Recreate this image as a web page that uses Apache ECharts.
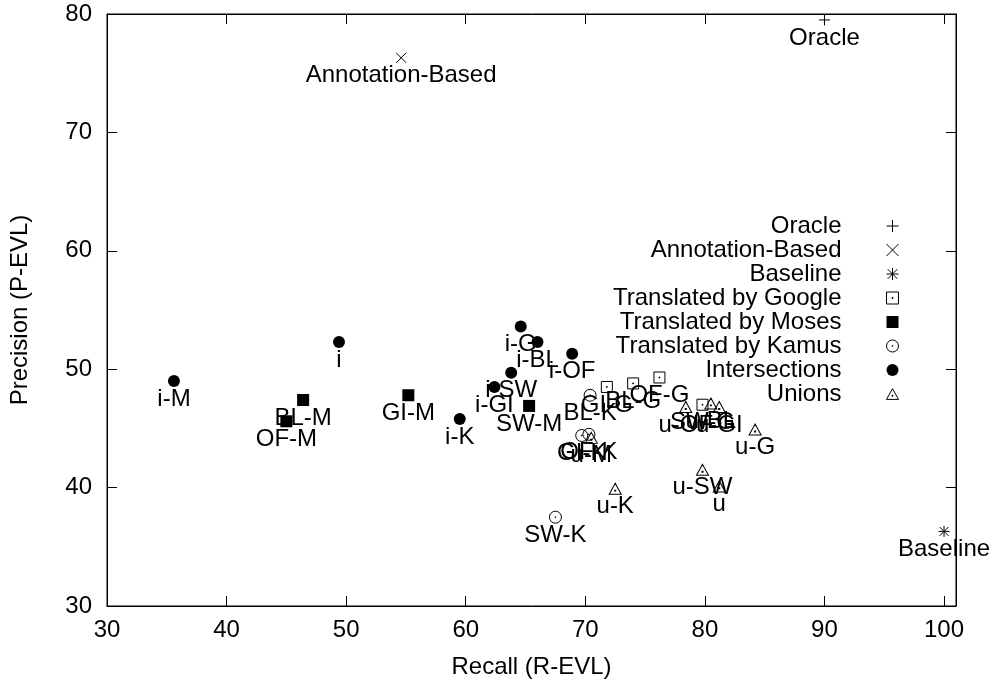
<!DOCTYPE html>
<html>
<head>
<meta charset="utf-8">
<script src="https://cdn.jsdelivr.net/npm/echarts@6/dist/echarts.min.js"></script>
<style>
  html, body { margin: 0; padding: 0; background: #fff; }
  #chart { width: 1002px; height: 685px; }
</style>
</head>
<body>
<div id="chart"></div>
<script>
  // [recall, precision, label]
  var oracle = [[90.0, 79.5, 'Oracle']];
  var annotation = [[54.6, 76.3, 'Annotation-Based']];
  var baseline = [[100.0, 36.3, 'Baseline']];
  var google = [[71.8, 48.5, 'GI-G'], [74.0, 48.8, 'BL-G'], [76.2, 49.3, 'OF-G'], [79.8, 47.0, 'SW-G']];
  var moses = [[46.4, 47.4, 'BL-M'], [45.0, 45.6, 'OF-M'], [55.2, 47.8, 'GI-M'], [65.3, 46.9, 'SW-M']];
  var kamus = [[70.4, 47.8, 'BL-K'], [69.7, 44.4, 'GI-K'], [70.3, 44.5, 'OF-K'], [67.5, 37.5, 'SW-K']];
  var intersections = [[49.4, 52.3, 'i'], [35.6, 49.0, 'i-M'], [64.6, 53.6, 'i-G'], [59.5, 45.8, 'i-K'],
    [66.0, 52.3, 'i-BL'], [68.9, 51.3, 'i-OF'], [63.8, 49.7, 'i-SW'], [62.4, 48.5, 'i-GI']];
  var unions = [[81.2, 40.1, 'u'], [70.5, 44.2, 'u-M'], [84.2, 44.9, 'u-G'], [72.5, 39.9, 'u-K'],
    [80.5, 47.1, 'u-BL'], [78.4, 46.8, 'u-OF'], [79.8, 41.5, 'u-SW'], [81.2, 46.8, 'u-GI']];

  var xTicks = { min: 30, max: 101, interval: 10 };
  var yTicks = { min: 30, max: 80, interval: 10 };

  var FONT = 'Liberation Sans, Arial, Helvetica, sans-serif';
  var FS = 24;

  var PLUS = 'path://M5 0 L5 10 M0 5 L10 5';
  var CROSS = 'path://M0 0 L10 10 M10 0 L0 10';
  var STAR = 'path://M5 0 L5 10 M0 5 L10 5 M1 1 L9 9 M9 1 L1 9';
  var BOXDOT = 'path://M0 0 L10 0 L10 10 L0 10 Z M4.6 4.6 L5.4 4.6 L5.4 5.4 L4.6 5.4 Z';
  var CIRCDOT = 'path://M10 5 A5 5 0 1 1 0 5 A5 5 0 1 1 10 5 Z M5.4 5 A0.4 0.4 0 1 1 4.6 5 A0.4 0.4 0 1 1 5.4 5 Z';
  var TRIDOT = 'path://M5 0 L10 9 L0 9 Z M4.6 5.6 L5.4 5.6 L5.4 6.4 L4.6 6.4 Z';

  var openStyle = { color: 'transparent', borderColor: '#000', borderWidth: 1, opacity: 1 };
  var solidStyle = { color: '#000', borderWidth: 0, opacity: 1 };

  function mk(name, data, symbol, size, style) {
    return {
      name: name,
      type: 'scatter',
      data: data,
      symbol: symbol,
      symbolSize: size,
      itemStyle: style,
      label: {
        show: true,
        position: 'inside',
        offset: [0, 18],
        formatter: function (p) { return p.data[2]; },
        color: '#000',
        textBorderWidth: 0,
        fontFamily: FONT,
        fontSize: FS
      },
      emphasis: { disabled: true }
    };
  }

  var chart = echarts.init(document.getElementById('chart'));
  var option = {
    backgroundColor: '#fff',
    animation: false,
    textStyle: { fontFamily: FONT, color: '#000' },
    grid: {
      left: 105, top: 14, right: 46, bottom: 79,
      show: true, borderColor: '#000', borderWidth: 1, backgroundColor: 'transparent'
    },
    legend: {
      orient: 'vertical',
      align: 'right',
      right: 103,
      top: 214,
      padding: 0,
      itemGap: 0,
      itemWidth: 12,
      itemHeight: 12,
      selectedMode: false,
      itemStyle: { borderWidth: 1 },
      textStyle: { fontFamily: FONT, fontSize: FS, color: '#000', lineHeight: 20, padding: [0, 40, 0, 0] },
      data: ['Oracle', 'Annotation-Based', 'Baseline', 'Translated by Google',
        'Translated by Moses', 'Translated by Kamus', 'Intersections', 'Unions']
    },
    xAxis: [{
      type: 'value',
      min: xTicks.min, max: xTicks.max, interval: xTicks.interval,
      name: 'Recall (R-EVL)',
      nameLocation: 'middle',
      nameGap: 49,
      nameTextStyle: { fontFamily: FONT, fontSize: FS, color: '#000' },
      axisLine: { show: true, onZero: false, lineStyle: { color: '#000', width: 1 } },
      axisTick: { show: true, inside: true, length: 10, lineStyle: { color: '#000' } },
      axisLabel: { margin: 12, fontFamily: FONT, fontSize: FS, color: '#000', showMaxLabel: false },
      splitLine: { show: false }
    }, {
      type: 'value',
      position: 'top',
      min: xTicks.min, max: xTicks.max, interval: xTicks.interval,
      axisLine: { show: true, lineStyle: { color: '#000', width: 1 } },
      axisTick: { show: true, inside: true, length: 10, lineStyle: { color: '#000' } },
      axisLabel: { show: false },
      splitLine: { show: false }
    }],
    yAxis: [{
      type: 'value',
      min: yTicks.min, max: yTicks.max, interval: yTicks.interval,
      name: 'Precision (P-EVL)',
      nameLocation: 'middle',
      nameGap: 75,
      nameTextStyle: { fontFamily: FONT, fontSize: FS, color: '#000' },
      axisLine: { show: true, onZero: false, lineStyle: { color: '#000', width: 1 } },
      axisTick: { show: true, inside: true, length: 10, lineStyle: { color: '#000' } },
      axisLabel: { margin: 15, fontFamily: FONT, fontSize: FS, color: '#000' },
      splitLine: { show: false }
    }, {
      type: 'value',
      position: 'right',
      min: yTicks.min, max: yTicks.max, interval: yTicks.interval,
      axisLine: { show: true, lineStyle: { color: '#000', width: 1 } },
      axisTick: { show: true, inside: true, length: 10, lineStyle: { color: '#000' } },
      axisLabel: { show: false },
      splitLine: { show: false }
    }],
    series: [
      mk('Oracle', oracle, PLUS, 11, openStyle),
      mk('Annotation-Based', annotation, CROSS, 10, openStyle),
      mk('Baseline', baseline, STAR, 11, openStyle),
      mk('Translated by Google', google, BOXDOT, 11, openStyle),
      mk('Translated by Moses', moses, 'rect', 12, solidStyle),
      mk('Translated by Kamus', kamus, CIRCDOT, 12, openStyle),
      mk('Intersections', intersections, 'circle', 12, solidStyle),
      mk('Unions', unions, TRIDOT, [12, 11], openStyle)
    ]
  };
  chart.setOption(option);
</script>
</body>
</html>
